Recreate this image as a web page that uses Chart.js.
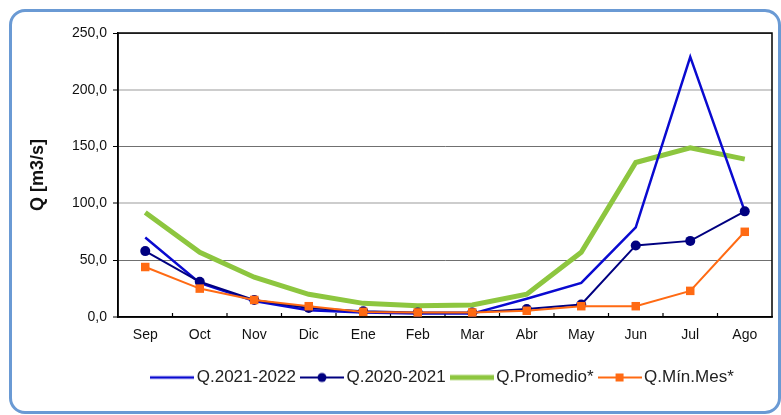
<!DOCTYPE html>
<html lang="es">
<head>
<meta charset="UTF-8">
<title>Caudales mensuales</title>
<script src="https://cdn.jsdelivr.net/npm/chart.js"></script>
<style>
  body { margin: 0; background: #fff; }
  .wrap { position: relative; width: 781px; height: 415px; }
  .marco {
    position: absolute; left: 9px; top: 9px; width: 766px; height: 399px;
    border: 3px solid #6a9ad4; border-radius: 16px; pointer-events: none;
  }
  canvas { position: absolute; left: 0; top: 0; }
</style>
</head>
<body>
<div class="wrap">
  <canvas id="chart" width="781" height="415"></canvas>
  <div class="marco"></div>
</div>
<script>
// meses del año hidrológico
var meses = ["Sep", "Oct", "Nov", "Dic", "Ene", "Feb", "Mar", "Abr", "May", "Jun", "Jul", "Ago"];

// caudales en m3/s
var q2122 = [70, 30, 14, 6, 4, 3, 3, 16, 30, 79, 229, 93];
var q2021 = [58, 31, 15, 8, 5, 4, 4, 7, 11, 63, 67, 93];
var qPromedio = [92, 57, 35, 20, 12, 10, 10.5, 20, 57, 136, 149, 139];
var qMinMes = [44, 25, 15, 9.5, 4.5, 4, 4, 5.5, 9.5, 9.5, 23, 75];

var yTicks = [0, 50, 100, 150, 200, 250];

var fuente = "'Liberation Sans', Arial, sans-serif";

// iconos de la leyenda: línea con marcador
function icono(color, ancho, marcador) {
  var c = document.createElement("canvas");
  c.width = 44;
  c.height = 14;
  var g = c.getContext("2d");
  g.strokeStyle = color;
  g.lineWidth = ancho;
  g.beginPath();
  g.moveTo(0, 7);
  g.lineTo(44, 7);
  g.stroke();
  g.fillStyle = color;
  if (marcador === "circle") {
    g.beginPath();
    g.arc(22, 7, 4.5, 0, Math.PI * 2);
    g.fill();
  } else if (marcador === "rect") {
    g.fillRect(18, 3, 8, 8);
  }
  return c;
}

var iconos = [
  icono("#0a0ad0", 2.5, null),
  icono("#000080", 2, "circle"),
  icono("#8dc63f", 5, null),
  icono("#ff6a13", 2, "rect")
];

// marco del área de gráfico y marcas interiores del eje X
var marcoPlot = {
  id: "marcoPlot",
  beforeDatasetsDraw: function(chart) {
    var ctx = chart.ctx;
    var a = chart.chartArea;
    var x = chart.scales.x;
    ctx.save();
    ctx.strokeStyle = "#000";
    ctx.lineWidth = 1.5;
    ctx.strokeRect(a.left, a.top, a.right - a.left, a.bottom - a.top);
    ctx.lineWidth = 1.2;
    for (var i = 0; i < meses.length - 1; i++) {
      var px = (x.getPixelForValue(i) + x.getPixelForValue(i + 1)) / 2;
      ctx.beginPath();
      ctx.moveTo(px, a.bottom);
      ctx.lineTo(px, a.bottom - 4);
      ctx.stroke();
    }
    ctx.restore();
  }
};

var ctx = document.getElementById("chart").getContext("2d");
var chart = new Chart(ctx, {
  type: "line",
  data: {
    labels: meses,
    datasets: [
      {
        label: "Q.2021-2022",
        data: q2122,
        borderColor: "#0a0ad0",
        backgroundColor: "#0a0ad0",
        borderWidth: 2.5,
        pointRadius: 0,
        order: 2
      },
      {
        label: "Q.2020-2021",
        data: q2021,
        borderColor: "#000080",
        backgroundColor: "#000080",
        borderWidth: 2,
        pointStyle: "circle",
        pointRadius: 5,
        pointBorderWidth: 0,
        order: 1
      },
      {
        label: "Q.Promedio*",
        data: qPromedio,
        borderColor: "#8dc63f",
        backgroundColor: "#8dc63f",
        borderWidth: 5,
        pointRadius: 0,
        order: 3
      },
      {
        label: "Q.Mín.Mes*",
        data: qMinMes,
        borderColor: "#ff6a13",
        backgroundColor: "#ff6a13",
        borderWidth: 2,
        pointStyle: "rect",
        pointRadius: 6,
        pointBorderWidth: 0,
        order: 0
      }
    ]
  },
  options: {
    responsive: false,
    animation: false,
    layout: { padding: { left: 20, right: 9, top: 33, bottom: 19 } },
    elements: { line: { tension: 0 } },
    scales: {
      x: {
        offset: true,
        grid: { drawOnChartArea: false, drawTicks: false },
        border: { color: "#000", width: 1.5 },
        ticks: {
          padding: 10,
          color: "#111",
          font: { family: fuente, size: 14 }
        },
        afterFit: function(s) { s.height = 42; }
      },
      y: {
        min: 0,
        max: 250,
        afterBuildTicks: function(s) {
          s.ticks = yTicks.map(function(v) { return { value: v }; });
        },
        grid: {
          color: function(c) { return (c.tick && c.tick.value % 100 === 0) ? "#cdcdcd" : "#707070"; },
          lineWidth: function(c) { return (c.tick && c.tick.value % 100 === 0) ? 2 : 1; },
          tickColor: "#000",
          tickWidth: 1,
          tickLength: 5
        },
        border: { color: "#000", width: 1.5 },
        ticks: {
          padding: 6,
          color: "#111",
          font: { family: fuente, size: 14 },
          callback: function(v) { return v.toFixed(1).replace(".", ","); }
        },
        title: {
          display: true,
          text: "Q [m3/s]",
          color: "#111",
          padding: { top: 7, bottom: 0 },
          font: { family: fuente, size: 18, weight: "bold" }
        },
        afterFit: function(s) { s.width = 98; }
      }
    },
    plugins: {
      tooltip: { enabled: false },
      legend: {
        position: "bottom",
        fullSize: false,
        labels: {
          usePointStyle: true,
          pointStyleWidth: 32,
          padding: 10,
          color: "#222",
          font: { family: fuente, size: 17 },
          sort: function(a, b) { return a.datasetIndex - b.datasetIndex; },
          generateLabels: function(chart) {
            var items = Chart.defaults.plugins.legend.labels.generateLabels(chart);
            items.forEach(function(it) { it.pointStyle = iconos[it.datasetIndex]; });
            return items;
          }
        }
      }
    }
  },
  plugins: [marcoPlot]
});
</script>
</body>
</html>
